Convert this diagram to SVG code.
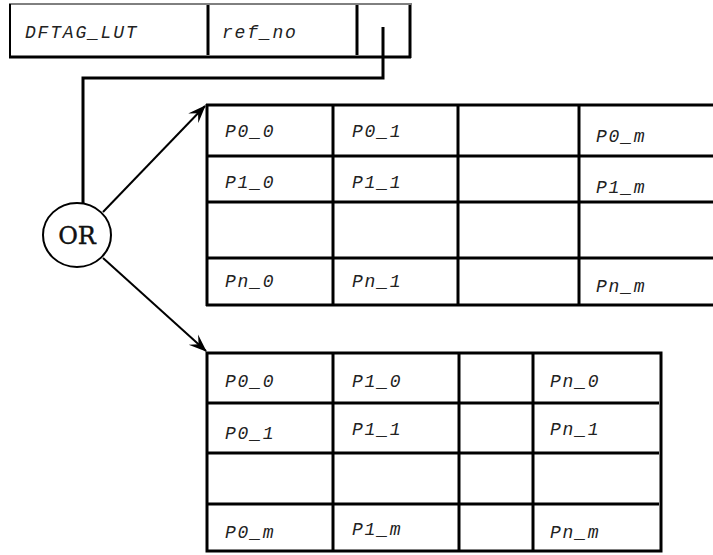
<svg xmlns="http://www.w3.org/2000/svg" width="713" height="555" viewBox="0 0 713 555">
<style>
.t{font-family:"Liberation Mono","Courier New",monospace;font-style:italic;font-size:18px;letter-spacing:1.8px;fill:#222}
.g{stroke:#000;stroke-width:3;fill:none}
.c{stroke:#000;stroke-width:2;fill:none}
</style>
<defs>
<marker id="ah" markerWidth="18" markerHeight="16" viewBox="0 0 18 16" refX="17" refY="8" orient="auto" markerUnits="userSpaceOnUse">
<path d="M0,1 L18,8 L0,15 L7,8 Z" fill="#000"/>
</marker>
</defs>
<g id="dftag">
<line x1="9" y1="4" x2="412" y2="4" stroke="#000" stroke-width="1"/>
<line x1="10" y1="4" x2="10" y2="57" stroke="#000" stroke-width="2"/>
<line x1="9" y1="57" x2="411" y2="57" class="g"/>
<line x1="208" y1="5" x2="208" y2="55" class="g"/>
<line x1="357" y1="5" x2="357" y2="55" class="g"/>
<line x1="410" y1="5" x2="410" y2="58" class="g"/>
<text class="t" x="25" y="38">DFTAG_LUT</text>
<text class="t" x="222" y="38">ref_no</text>
</g>
<g id="or">
<ellipse cx="77" cy="235" rx="34" ry="32" fill="#fff" stroke="#000" stroke-width="2"/>
<text x="77" y="244" text-anchor="middle" font-family="'DejaVu Serif',serif" font-size="24" stroke="#111" stroke-width="0.4" fill="#111">OR</text>
</g>
<g id="table1">
<line x1="206" y1="105" x2="713" y2="105" class="g"/>
<line x1="206" y1="156" x2="713" y2="156" class="g"/>
<line x1="206" y1="202" x2="713" y2="202" class="g"/>
<line x1="206" y1="258" x2="713" y2="258" class="g"/>
<line x1="206" y1="305" x2="713" y2="305" class="g"/>
<line x1="207" y1="104" x2="207" y2="306" class="g"/>
<line x1="333" y1="105" x2="333" y2="304" class="g"/>
<line x1="458" y1="105" x2="458" y2="304" class="g"/>
<line x1="579" y1="105" x2="579" y2="304" class="g"/>
<text class="t" x="225" y="137">P0_0</text>
<text class="t" x="352" y="137">P0_1</text>
<text class="t" x="596" y="142">P0_m</text>
<text class="t" x="225" y="188">P1_0</text>
<text class="t" x="352" y="188">P1_1</text>
<text class="t" x="596" y="193">P1_m</text>
<text class="t" x="225" y="287">Pn_0</text>
<text class="t" x="352" y="287">Pn_1</text>
<text class="t" x="596" y="292">Pn_m</text>
</g>
<g id="table2">
<rect x="207" y="353" width="454" height="198" class="g"/>
<line x1="207" y1="403" x2="659" y2="403" class="g"/>
<line x1="207" y1="453" x2="659" y2="453" class="g"/>
<line x1="207" y1="504" x2="659" y2="504" class="g"/>
<line x1="333" y1="353" x2="333" y2="551" class="g"/>
<line x1="459" y1="353" x2="459" y2="551" class="g"/>
<line x1="533" y1="353" x2="533" y2="551" class="g"/>
<text class="t" x="225" y="387">P0_0</text>
<text class="t" x="352" y="387">P1_0</text>
<text class="t" x="550" y="387">Pn_0</text>
<text class="t" x="225" y="439">P0_1</text>
<text class="t" x="352" y="435">P1_1</text>
<text class="t" x="550" y="435">Pn_1</text>
<text class="t" x="225" y="538">P0_m</text>
<text class="t" x="352" y="535">P1_m</text>
<text class="t" x="550" y="538">Pn_m</text>
</g>
<g id="connectors">
<path d="M383,27 V78 H83 V203" class="g"/>
<line x1="103" y1="212" x2="205" y2="106" class="c" marker-end="url(#ah)"/>
<line x1="103" y1="258" x2="206" y2="351" class="c" marker-end="url(#ah)"/>
</g>
</svg>
